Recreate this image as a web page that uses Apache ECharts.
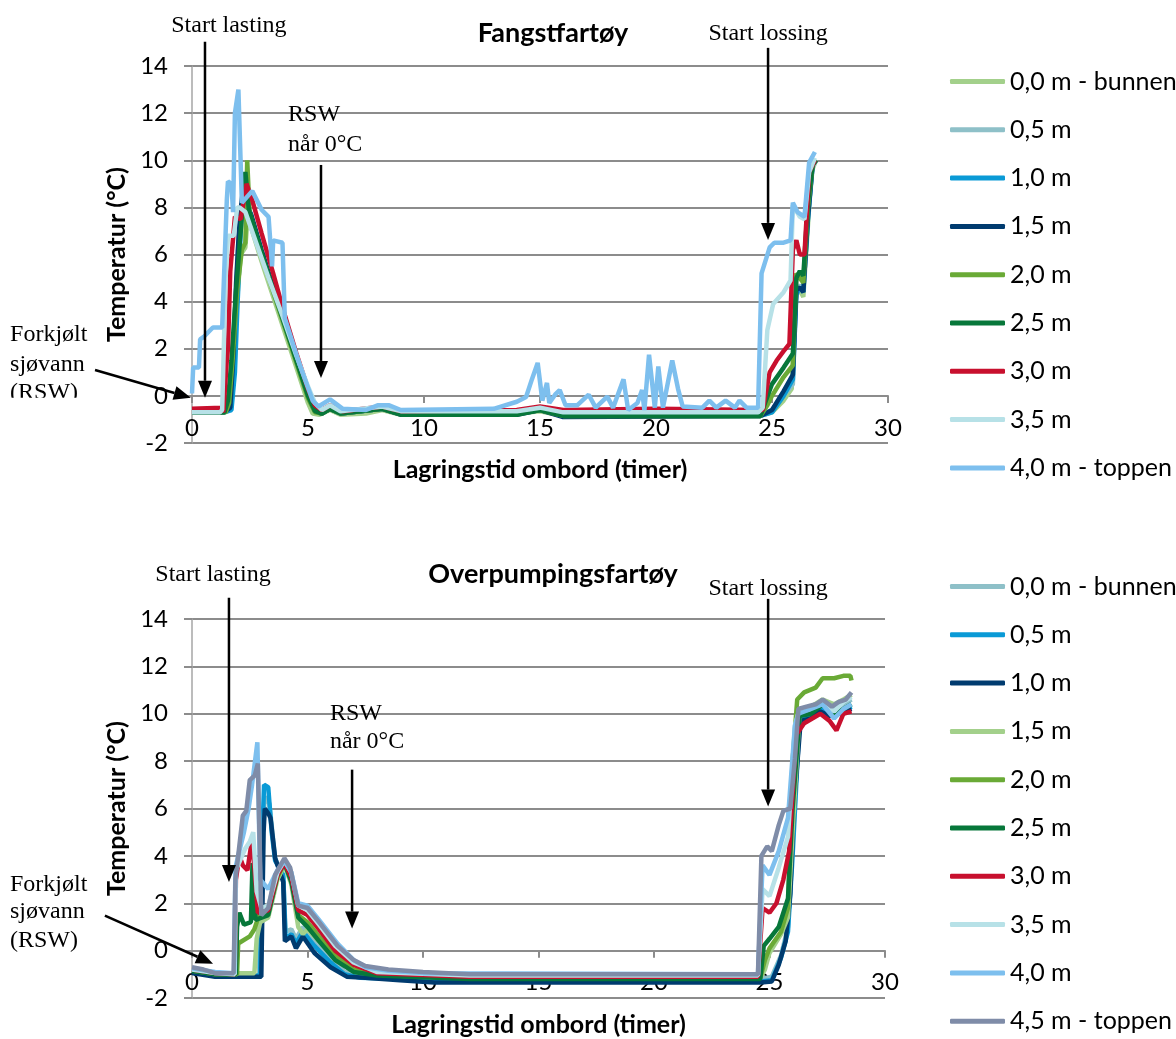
<!DOCTYPE html>
<html lang="no">
<head>
    <meta charset="UTF-8">
    <title>Temperatur i RSW-tank</title>
    <script src="https://cdn.jsdelivr.net/npm/echarts@6/dist/echarts.min.js"></script>
    <style>
        body {margin: 0; background: #fff;}
        #chart1 {width: 1176px; height: 520px;}
        #chart2 {width: 1176px; height: 519px;}
    </style>
</head>
<body>
<div id="chart1"></div>
<div id="chart2"></div>
<script type="text/javascript">
    // Fangstfartøy: [timer, °C]
    var fangstNames = ['0,0 m - bunnen', '0,5 m', '1,0 m', '1,5 m', '2,0 m', '2,5 m', '3,0 m', '3,5 m', '4,0 m - toppen'];
    var fangst00 = [[0,-0.7],[1.3,-0.7],[1.5,-0.65],[1.7,0.5],[1.9,3.5],[2.1,6.0],[2.3,6.3],[2.4,7.6],[2.5,7.3],[3.0,5.7],[3.5,4.2],[4.0,2.7],[4.5,1.2],[5.0,-0.3],[5.2,-0.75],[5.5,-0.8],[5.95,-0.6],[6.4,-0.8],[7.5,-0.75],[8.2,-0.6],[9,-0.8],[12,-0.8],[14,-0.75],[15,-0.65],[16,-0.85],[20,-0.85],[24.5,-0.85],[25.0,-0.7],[25.5,-0.2],[25.85,0.3],[26.0,4.0],[26.15,4.6],[26.35,4.2],[26.5,6.5],[26.7,9.5],[26.9,10.0]];
    var fangst05 = [[0,-0.7],[1.35,-0.7],[1.6,-0.5],[1.8,2.5],[2.0,6.5],[2.2,8.5],[2.35,8.0],[2.5,7.6],[3.0,6.0],[3.5,4.5],[4.0,3.0],[4.5,1.5],[5.0,0.0],[5.3,-0.65],[5.6,-0.7],[5.95,-0.5],[6.4,-0.7],[8.2,-0.5],[9,-0.7],[14,-0.7],[15,-0.6],[16,-0.8],[24.5,-0.8],[25.0,-0.6],[25.5,0.0],[25.9,0.5],[26.05,4.5],[26.2,4.7],[26.35,4.5],[26.55,7.5],[26.75,9.7],[26.9,10.0]];
    var fangst10 = [[0,-0.7],[1.4,-0.7],[1.7,-0.6],[1.85,1.0],[1.95,3.6],[2.1,7.0],[2.2,9.0],[2.35,8.2],[2.5,7.8],[3.0,6.1],[3.5,4.5],[4.0,3.0],[4.5,1.5],[5.0,0.0],[5.3,-0.65],[5.6,-0.75],[5.95,-0.55],[6.4,-0.75],[8.2,-0.55],[9,-0.75],[14,-0.75],[15,-0.6],[16,-0.85],[24.5,-0.85],[25.0,-0.7],[25.5,0.0],[25.9,0.7],[26.05,4.3],[26.2,4.6],[26.35,4.4],[26.55,7.5],[26.75,9.8],[26.9,10.0]];
    var fangst15 = [[0,-0.7],[1.4,-0.7],[1.65,-0.5],[1.8,2.0],[1.9,4.8],[2.05,7.5],[2.25,9.2],[2.4,8.0],[2.55,7.7],[3.0,6.2],[3.5,4.6],[4.0,3.1],[4.5,1.6],[5.0,0.0],[5.3,-0.65],[5.6,-0.75],[5.95,-0.55],[6.4,-0.75],[8.2,-0.55],[9,-0.8],[14,-0.8],[15,-0.6],[16,-0.9],[24.5,-0.85],[25.0,-0.6],[25.5,0.2],[25.9,0.9],[26.05,4.5],[26.2,4.6],[26.35,4.4],[26.55,7.6],[26.75,9.8],[26.9,10.0]];
    var fangst20 = [[0,-0.7],[1.45,-0.7],[1.6,-0.3],[1.75,1.5],[1.95,4.5],[2.15,6.2],[2.3,6.5],[2.38,10.0],[2.48,7.8],[3.0,6.0],[3.5,4.4],[4.0,2.9],[4.5,1.4],[5.0,-0.1],[5.3,-0.7],[5.6,-0.75],[5.95,-0.55],[6.4,-0.75],[8.2,-0.55],[9,-0.75],[14,-0.75],[15,-0.6],[16,-0.85],[24.5,-0.85],[24.8,-0.4],[25.0,0.0],[25.5,0.8],[25.9,1.3],[26.05,5.2],[26.2,5.0],[26.35,4.8],[26.55,8.0],[26.75,9.8],[26.9,10.0]];
    var fangst25 = [[0,-0.7],[1.4,-0.7],[1.55,-0.2],[1.7,1.5],[1.9,4.5],[2.1,7.0],[2.3,9.5],[2.45,7.9],[3.0,6.1],[3.5,4.5],[4.0,3.0],[4.5,1.5],[5.0,0.0],[5.3,-0.65],[5.6,-0.75],[5.95,-0.55],[6.4,-0.75],[8.2,-0.55],[9,-0.8],[14,-0.8],[15,-0.6],[16,-0.85],[24.5,-0.85],[24.7,-0.3],[25.0,0.5],[25.5,1.2],[25.9,1.8],[26.05,5.0],[26.2,5.3],[26.35,5.1],[26.55,8.2],[26.75,9.8],[26.9,10.0]];
    var fangst30 = [[0,-0.55],[1.3,-0.5],[1.35,-0.7],[1.5,1.5],[1.55,2.0],[1.65,5.3],[1.85,7.6],[2.1,7.5],[2.35,9.0],[2.6,8.3],[3.0,6.9],[3.5,5.2],[3.95,3.6],[4.5,1.8],[5.0,0.3],[5.3,-0.4],[5.6,-0.6],[5.95,-0.4],[6.5,-0.65],[8.2,-0.45],[9,-0.65],[14,-0.6],[15,-0.45],[16,-0.6],[20,-0.55],[24.4,-0.6],[24.6,-0.6],[24.9,1.0],[25.2,1.5],[25.5,1.9],[25.75,2.2],[25.9,6.2],[26.05,6.6],[26.2,6.0],[26.4,6.0],[26.6,9.5],[26.85,10.0]];
    var fangst35 = [[0,-0.7],[1.2,-0.7],[1.3,-0.6],[1.45,5.0],[1.55,6.8],[1.8,6.8],[1.95,8.0],[2.05,8.0],[2.3,7.8],[2.8,6.4],[3.3,5.0],[3.9,3.4],[4.5,1.7],[5.0,0.4],[5.3,-0.3],[5.6,-0.6],[5.95,-0.4],[6.4,-0.65],[8.2,-0.45],[9,-0.65],[14,-0.65],[15,-0.5],[16,-0.7],[24.4,-0.7],[24.6,-0.5],[24.8,2.8],[25.05,3.9],[25.5,4.4],[25.8,4.9],[25.9,8.1],[26.2,7.6],[26.4,7.5],[26.6,9.5],[26.85,10.1]];
    var fangst40 = [[0,0.1],[0.05,1.2],[0.3,1.2],[0.35,2.4],[0.5,2.5],[0.9,2.9],[1.3,2.9],[1.5,8.3],[1.55,9.1],[1.7,9.0],[1.77,7.8],[1.85,12.0],[2.0,13.0],[2.15,8.2],[2.6,8.7],[3.0,7.9],[3.3,7.6],[3.45,5.5],[3.5,6.6],[3.9,6.5],[4.0,3.3],[4.65,1.3],[5.2,-0.2],[5.45,-0.45],[5.95,-0.15],[6.5,-0.55],[7.5,-0.6],[8.0,-0.4],[8.5,-0.4],[9.0,-0.6],[13,-0.55],[14.0,-0.25],[14.4,-0.05],[14.65,0.7],[14.9,1.4],[15.1,-0.2],[15.3,0.55],[15.4,-0.3],[15.65,0.05],[15.85,0.25],[16.1,-0.4],[16.6,-0.4],[17.1,0.05],[17.4,-0.5],[17.9,-0.03],[18.15,-0.5],[18.6,0.7],[18.8,-0.6],[19.2,-0.3],[19.4,0.25],[19.5,-0.6],[19.7,1.75],[19.95,-0.5],[20.1,1.25],[20.3,-0.5],[20.7,1.5],[20.95,0.3],[21.15,-0.45],[22.0,-0.5],[22.3,-0.2],[22.6,-0.5],[23.0,-0.2],[23.4,-0.5],[23.6,-0.2],[23.9,-0.5],[24.4,-0.5],[24.55,5.2],[24.9,6.3],[25.1,6.5],[25.5,6.5],[25.8,6.6],[25.9,8.2],[26.1,7.8],[26.4,7.6],[26.6,9.9],[26.85,10.35]];

    // Overpumpingsfartøy: [timer, °C]
    var overNames = ['0,0 m - bunnen', '0,5 m', '1,0 m', '1,5 m', '2,0 m', '2,5 m', '3,0 m', '3,5 m', '4,0 m', '4,5 m - toppen'];
    var over00 = [[0,-0.85],[1.0,-1.0],[1.85,-1.05],[2.9,-1.05],[3.0,4.0],[3.15,6.5],[3.35,6.2],[3.6,3.9],[3.95,3.1],[4.05,0.8],[4.3,0.9],[4.5,0.5],[4.8,1.0],[5.3,0.4],[6.0,-0.3],[6.6,-0.9],[7.3,-1.05],[9,-1.1],[12,-1.2],[24.6,-1.2],[25.1,-1.1],[25.5,-0.2],[25.8,1.0],[26.0,4.5],[26.3,9.9],[26.8,10.1],[27.3,10.4],[27.8,10.2],[28.2,10.4],[28.55,10.6]];
    var over05 = [[0,-0.9],[1.0,-1.05],[2.95,-1.05],[3.05,5.0],[3.12,7.0],[3.3,6.9],[3.45,5.0],[3.6,3.8],[3.95,3.2],[4.05,0.5],[4.3,0.7],[4.5,0.3],[4.8,0.8],[5.3,0.2],[6.0,-0.5],[6.6,-1.0],[7.3,-1.15],[9,-1.2],[12,-1.3],[24.6,-1.3],[25.1,-1.25],[25.5,-0.3],[25.8,0.8],[26.0,4.0],[26.3,9.7],[26.8,9.9],[27.3,10.2],[27.8,9.9],[28.2,10.1],[28.55,10.3]];
    var over10 = [[0,-0.95],[1.0,-1.1],[3.0,-1.1],[3.1,5.0],[3.15,6.0],[3.3,5.8],[3.4,5.6],[3.6,3.9],[3.95,2.9],[4.02,0.4],[4.3,0.6],[4.5,0.1],[4.8,0.6],[5.3,-0.1],[6.0,-0.7],[6.7,-1.1],[7.5,-1.15],[9,-1.25],[10.5,-1.35],[24.6,-1.35],[25.1,-1.3],[25.4,-0.6],[25.7,0.4],[25.9,2.4],[26.05,6.0],[26.35,9.7],[26.8,9.8],[27.2,10.1],[27.6,9.9],[28.0,10.0],[28.55,10.2]];
    var over15 = [[0,-0.8],[1.0,-0.95],[2.7,-0.95],[2.8,0.5],[2.95,1.2],[3.3,1.4],[3.7,3.0],[4.0,3.6],[4.3,2.8],[4.6,1.0],[4.8,0.7],[5.0,0.9],[5.5,0.4],[6.2,-0.3],[7.0,-0.85],[8,-1.0],[12,-1.15],[24.6,-1.15],[24.8,-0.8],[25.0,-0.1],[25.5,0.7],[25.8,1.4],[26.0,5.0],[26.3,10.0],[26.8,10.3],[27.3,10.6],[27.8,10.4],[28.2,10.6],[28.55,10.8]];
    var over20 = [[0,-0.85],[1.0,-1.0],[1.95,-1.0],[2.0,0.3],[2.5,0.6],[2.7,0.9],[2.9,1.5],[3.3,1.6],[3.7,3.1],[4.0,3.7],[4.3,3.0],[4.6,1.5],[5.0,1.2],[5.5,0.6],[6.2,-0.2],[7.0,-0.8],[8,-1.0],[12,-1.15],[24.6,-1.15],[24.8,-0.4],[25.0,0.1],[25.5,0.8],[25.8,1.8],[26.0,8.0],[26.2,10.6],[26.5,10.9],[27.0,11.1],[27.3,11.5],[27.8,11.5],[28.2,11.6],[28.5,11.6],[28.55,11.4]];
    var over25 = [[0,-0.85],[1.0,-1.0],[1.9,-1.0],[1.95,1.0],[2.05,1.6],[2.25,1.1],[2.55,1.2],[2.62,3.7],[2.75,1.3],[3.3,1.5],[3.7,3.2],[4.0,3.7],[4.3,2.9],[4.6,1.4],[5.0,1.0],[5.5,0.4],[6.2,-0.4],[7.0,-0.9],[8,-1.05],[12,-1.2],[24.6,-1.2],[24.75,0.2],[25.0,0.5],[25.4,1.0],[25.8,2.2],[26.0,6.0],[26.3,9.9],[26.8,10.0],[27.3,10.4],[27.8,10.0],[28.2,10.2],[28.55,10.4]];
    var over30 = [[0,-0.8],[1.0,-0.95],[1.85,-1.0],[1.9,3.0],[2.05,4.0],[2.2,3.6],[2.4,3.4],[2.6,4.7],[2.7,3.5],[2.85,1.6],[3.3,1.7],[3.7,3.2],[4.0,3.7],[4.3,3.1],[4.6,1.7],[5.0,1.5],[5.5,0.9],[6.2,0.0],[7.0,-0.6],[8,-0.95],[12,-1.1],[24.5,-1.1],[24.7,1.8],[25.0,1.6],[25.3,2.0],[25.6,3.0],[25.85,4.2],[26.15,9.1],[26.5,9.6],[27.2,10.0],[27.6,9.7],[27.9,9.3],[28.2,10.0],[28.55,10.1]];
    var over35 = [[0,-0.8],[1.0,-0.95],[1.85,-1.0],[1.9,3.4],[2.3,4.3],[2.5,4.6],[2.65,5.0],[2.8,2.5],[3.0,1.8],[3.3,1.9],[3.7,3.3],[4.0,3.8],[4.3,3.3],[4.6,1.9],[5.0,1.7],[5.5,1.1],[6.2,0.2],[7.0,-0.5],[8,-0.9],[12,-1.05],[24.5,-1.05],[24.7,2.6],[25.0,2.3],[25.4,3.5],[25.8,4.8],[26.1,9.5],[26.3,10.2],[26.8,10.3],[27.3,10.4],[27.8,10.1],[28.2,10.5],[28.55,10.7]];
    var over40 = [[0,-0.75],[1.0,-0.9],[1.82,-0.95],[1.88,3.5],[2.0,4.0],[2.25,5.0],[2.45,6.0],[2.6,7.0],[2.83,8.8],[2.95,3.0],[3.3,2.6],[3.7,3.4],[4.0,3.8],[4.3,3.3],[4.6,2.0],[5.0,1.9],[5.5,1.3],[6.3,0.3],[7.0,-0.4],[7.5,-0.7],[8.5,-0.85],[10,-0.95],[24.5,-1.0],[24.7,3.6],[25.0,3.2],[25.4,4.2],[25.8,5.6],[26.1,9.5],[26.25,10.0],[26.8,10.2],[27.3,10.4],[27.8,9.8],[28.2,10.2],[28.55,10.4]];
    var over45 = [[0,-0.7],[0.5,-0.8],[1.0,-0.95],[1.8,-0.95],[1.88,3.0],[2.0,4.0],[2.2,5.7],[2.35,5.9],[2.5,7.2],[2.72,7.4],[2.85,7.9],[3.0,1.5],[3.3,1.8],[3.6,3.2],[4.0,3.9],[4.25,3.5],[4.6,1.9],[5.0,1.8],[5.5,1.2],[6.3,0.2],[7.0,-0.4],[7.5,-0.65],[8.5,-0.8],[10,-0.9],[12,-1.0],[24.5,-1.0],[24.65,4.0],[24.9,4.4],[25.1,4.2],[25.4,5.3],[25.6,5.9],[25.9,6.0],[26.1,8.1],[26.25,10.2],[26.6,10.3],[27.0,10.4],[27.3,10.6],[27.7,10.3],[28.0,10.5],[28.3,10.6],[28.55,10.9]];

    var fangstData = [fangst00, fangst05, fangst10, fangst15, fangst20, fangst25, fangst30, fangst35, fangst40];
    var overData = [over00, over05, over10, over15, over20, over25, over30, over35, over40, over45];

    var fangstColors = ['#a3d08b', '#8ec0c8', '#0a9ad6', '#003b6f', '#6aaa36', '#07773a', '#c8102e', '#b7e1e7', '#7dbfee'];
    var overColors = ['#8ec0c8', '#0a9ad6', '#003b6f', '#a3d08b', '#6aaa36', '#07773a', '#c8102e', '#b7e1e7', '#7dbfee', '#7f8ca8'];

    // merknader i dataenheter (timer, °C)
    var fangstNotes = {
        texts: [
            {text: 'Start lasting', at: [1.59, 15.7], align: 'center'},
            {text: 'RSW', at: [4.14, 11.93], align: 'left'},
            {text: 'når 0°C', at: [4.14, 10.65], align: 'left'},
            {text: 'Start lossing', at: [24.83, 15.37], align: 'center'},
            {text: 'Forkjølt', at: [-7.84, 2.59], align: 'left'},
            {text: 'sjøvann', at: [-7.84, 1.32], align: 'left'},
            {text: '(RSW)', at: [-7.84, 0.13], align: 'left'}
        ],
        arrows: [
            [[0.56, 15.03], [0.56, -0.08]],
            [[5.56, 9.8], [5.56, 0.76]],
            [[24.83, 14.77], [24.83, 6.62]],
            [[-4.18, 1.1], [-0.05, -0.08]]
        ],
        cut: true
    };
    var overNotes = {
        texts: [
            {text: 'Start lasting', at: [0.91, 15.86], align: 'center'},
            {text: 'RSW', at: [5.97, 10.0], align: 'left'},
            {text: 'når 0°C', at: [5.97, 8.82], align: 'left'},
            {text: 'Start lossing', at: [24.94, 15.27], align: 'center'},
            {text: 'Forkjølt', at: [-7.88, 2.78], align: 'left'},
            {text: 'sjøvann', at: [-7.88, 1.65], align: 'left'},
            {text: '(RSW)', at: [-7.88, 0.42], align: 'left'}
        ],
        arrows: [
            [[1.6, 14.9], [1.6, 2.9]],
            [[6.93, 7.64], [6.93, 0.93]],
            [[24.94, 14.85], [24.94, 6.08]],
            [[-3.77, 1.48], [0.91, -0.55]]
        ],
        cut: false
    };

    var sans = 'Lato, "Open Sans", sans-serif';
    var yMin = -2, yMax = 14;

    function setoption(title, titleTop, gridTop, gridWidth, gridHeight, legendTop, names, data, colors) {
        // x-aksen ligger på 0 °C, som i originalen
        var zeroOffset = -gridHeight * (0 - yMin) / (yMax - yMin);
        return {
            animation: false,
            title: {
                text: title, left: 548, top: titleTop, textAlign: 'center',
                textStyle: {fontFamily: sans, fontSize: 27, fontWeight: 'bold', color: '#000'}
            },
            legend: {
                orient: 'vertical', left: 950, top: legendTop, height: 500, padding: 0,
                icon: 'roundRect', itemWidth: 55, itemHeight: 5, itemGap: 23.3,
                itemStyle: {borderWidth: 0},
                textStyle: {fontFamily: sans, fontSize: 25, lineHeight: 24, color: '#000'},
                data: names
            },
            grid: {left: 192, top: gridTop, width: gridWidth, height: gridHeight, outerBoundsMode: 'none', containLabel: false},
            xAxis: {
                type: 'value', min: 0, max: 30, interval: 5, offset: zeroOffset,
                name: 'Lagringstid ombord (timer)', nameLocation: 'middle', nameGap: 62,
                nameTextStyle: {fontFamily: sans, fontSize: 25, fontWeight: 'bold', color: '#000'},
                axisLine: {onZero: false, lineStyle: {color: '#8c8c8c', width: 2}},
                axisTick: {length: 7, lineStyle: {color: '#8c8c8c', width: 2}},
                axisLabel: {margin: 20, fontFamily: sans, fontSize: 24, color: '#000'},
                splitLine: {show: false}
            },
            yAxis: {
                type: 'value', min: yMin, max: yMax, interval: 2,
                name: 'Temperatur (°C)', nameLocation: 'middle', nameGap: 62,
                nameTextStyle: {fontFamily: sans, fontSize: 25, fontWeight: 'bold', color: '#000'},
                axisLine: {show: true, onZero: false, lineStyle: {color: '#a6a6a6', width: 1.5}},
                axisTick: {show: true, length: 8, lineStyle: {color: '#8c8c8c', width: 2}},
                axisLabel: {margin: 24, fontFamily: sans, fontSize: 24, color: '#000'},
                splitLine: {show: true, lineStyle: {color: '#8c8c8c', width: 2}}
            },
            series: names.map(function (n, i) {
                return {
                    name: n, type: 'line', data: data[i],
                    showSymbol: false, symbol: 'none',
                    itemStyle: {color: colors[i]},
                    lineStyle: {color: colors[i], width: 4.5},
                    emphasis: {disabled: true}
                };
            })
        };
    }

    function drawNotes(chart, notes) {
        var g = [];
        function px(p) { return chart.convertToPixel({gridIndex: 0}, p); }
        notes.texts.forEach(function (n) {
            var p = px(n.at);
            g.push({
                type: 'text', x: p[0], y: p[1], z: 100,
                style: {text: n.text, font: '24px "Liberation Serif", "DejaVu Serif", serif', fill: '#000', align: n.align, verticalAlign: 'middle'}
            });
        });
        if (notes.cut) {
            var c = px(notes.texts[6].at);
            g.push({type: 'rect', z: 101, shape: {x: 0, y: c[1] + 5, width: 110, height: 16}, style: {fill: '#fff'}});
        }
        notes.arrows.forEach(function (a) {
            var p0 = px(a[0]), p1 = px(a[1]);
            var dx = p1[0] - p0[0], dy = p1[1] - p0[1];
            var len = Math.sqrt(dx * dx + dy * dy);
            var ux = dx / len, uy = dy / len;
            var L = 17, W = 7;
            var bx = p1[0] - ux * L, by = p1[1] - uy * L;
            g.push({
                type: 'line', z: 102,
                shape: {x1: p0[0], y1: p0[1], x2: bx, y2: by},
                style: {stroke: '#000', lineWidth: 2.5}
            });
            g.push({
                type: 'polygon', z: 102,
                shape: {points: [[p1[0], p1[1]], [bx - uy * W, by + ux * W], [bx + uy * W, by - ux * W]]},
                style: {fill: '#000'}
            });
        });
        chart.setOption({graphic: g});
    }

    var chart1 = echarts.init(document.getElementById('chart1'));
    chart1.setOption(setoption('Fangstfartøy', 15, 66, 696, 377, 69, fangstNames, fangstData, fangstColors));
    drawNotes(chart1, fangstNotes);

    var chart2 = echarts.init(document.getElementById('chart2'));
    chart2.setOption(setoption('Overpumpingsfartøy', 36, 99, 693, 379, 54, overNames, overData, overColors));
    drawNotes(chart2, overNotes);
</script>
</body>
</html>
